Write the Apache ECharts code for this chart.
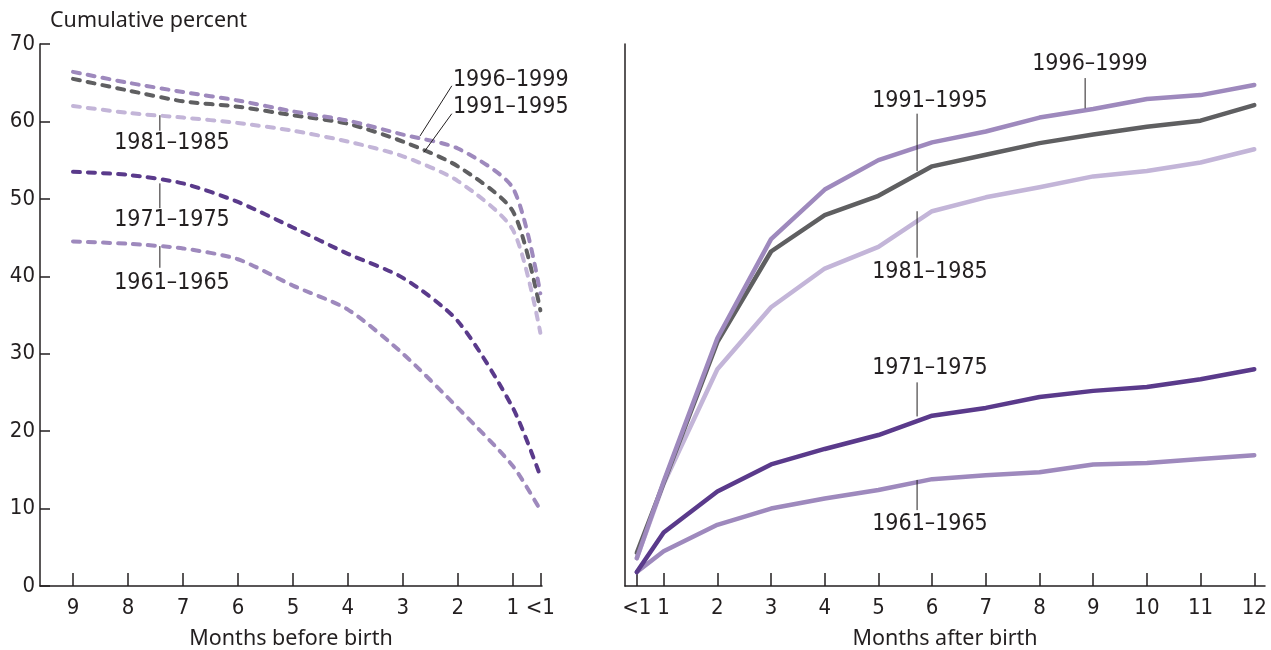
<!DOCTYPE html>
<html>
<head>
<meta charset="utf-8">
<script src="https://cdn.jsdelivr.net/npm/echarts@6/dist/echarts.min.js"></script>
<style>
html,body{margin:0;padding:0;background:#fff;}
#c{width:1271px;height:650px;}
</style>
</head>
<body>
<div id="c"></div>
<script>
// ---- data ----
var beforeMonths = [9, 8, 7, 6, 5, 4, 3, 2, 1, 0.5];
var afterMonths = [0.5, 1, 2, 3, 4, 5, 6, 7, 8, 9, 10, 11, 12];
var beforeTickValues = [9, 8, 7, 6, 5, 4, 3, 2, 1, 0.5];
var afterTickValues = [0.5, 1, 2, 3, 4, 5, 6, 7, 8, 9, 10, 11, 12];
var yTickLabels = [0, 10, 20, 30, 40, 50, 60, 70];

var cohorts = ['1961–1965', '1971–1975', '1981–1985', '1991–1995', '1996–1999'];

var before1961 = [44.5, 44.2, 43.6, 42.2, 38.8, 35.7, 30.0, 23.0, 15.5, 9.8];
var before1971 = [53.5, 53.1, 52.0, 49.6, 46.3, 42.9, 39.8, 34.2, 23.0, 14.2];
var before1981 = [62.0, 61.1, 60.5, 59.8, 58.8, 57.4, 55.5, 52.3, 46.0, 32.7];
var before1991 = [65.5, 64.0, 62.6, 61.9, 60.8, 59.7, 57.4, 54.2, 48.4, 35.6];
var before1996 = [66.4, 65.0, 63.8, 62.7, 61.3, 60.1, 58.3, 56.5, 51.4, 37.8];

var after1961 = [1.8, 4.5, 7.9, 10.0, 11.3, 12.4, 13.8, 14.3, 14.7, 15.7, 15.9, 16.4, 16.9];
var after1971 = [1.8, 6.9, 12.2, 15.7, 17.7, 19.5, 22.0, 23.0, 24.4, 25.2, 25.7, 26.7, 28.0];
var after1981 = [3.6, 13.2, 28.0, 36.0, 41.0, 43.8, 48.4, 50.2, 51.5, 52.9, 53.6, 54.7, 56.4];
var after1991 = [4.3, 13.3, 31.5, 43.2, 47.9, 50.4, 54.2, 55.7, 57.2, 58.3, 59.3, 60.1, 62.1];
var after1996 = [3.6, 13.5, 32.0, 44.8, 51.2, 55.0, 57.3, 58.7, 60.5, 61.6, 62.9, 63.4, 64.7];

var colors = {
  '1961–1965': '#9e89bd',
  '1971–1975': '#5a3a8b',
  '1981–1985': '#c3b5d8',
  '1991–1995': '#5f5f61',
  '1996–1999': '#9e89bd'
};

// annotation positions in data units: [grid, label, textX, textY, align, lineX1, lineY1, lineX2, lineY2]
var annotations = [
  [0, '1981–1985', 7.2, 57.2, 'center', 7.42, 60.8, 7.42, 58.8],
  [0, '1971–1975', 7.2, 47.3, 'center', 7.42, 52.0, 7.42, 48.8],
  [0, '1961–1965', 7.2, 39.1, 'center', 7.42, 43.9, 7.42, 41.1],
  [0, '1996–1999', 2.09, 65.3, 'left', 2.11, 64.6, 2.69, 58.1],
  [0, '1991–1995', 2.09, 61.8, 'left', 2.11, 61.0, 2.62, 56.0],
  [1, '1996–1999', 8.94, 67.4, 'center', 8.85, 65.6, 8.85, 61.7],
  [1, '1991–1995', 5.96, 62.6, 'center', 5.72, 61.0, 5.72, 53.6],
  [1, '1981–1985', 5.96, 40.6, 'center', 5.72, 48.4, 5.72, 42.4],
  [1, '1971–1975', 5.96, 28.2, 'center', 5.72, 26.3, 5.72, 21.9],
  [1, '1961–1965', 5.96, 8.0, 'center', 5.72, 13.7, 5.72, 9.8]
];

var FONT = '"DejaVu Sans Condensed", "DejaVu Sans", sans-serif';
var TFONT = '"Noto Sans", "DejaVu Sans", sans-serif';
var TXT = '#231f20';

function pairs(xs, ys) { return xs.map(function (x, i) { return [x, ys[i]]; }); }
function monthFmt(v) { return v < 1 ? '<1' : String(v); }

var beforeSets = [before1961, before1971, before1981, before1991, before1996];
var afterSets = [after1961, after1971, after1981, after1991, after1996];

var series = [];
cohorts.forEach(function (c, i) {
  series.push({
    name: c + ' before', type: 'line', xAxisIndex: 0, yAxisIndex: 0,
    data: pairs(beforeMonths, beforeSets[i]), showSymbol: false, smooth: 0.25,
    lineStyle: { color: colors[c], width: 4, type: [7, 8], cap: 'round', join: 'round' },
    silent: true, animation: false
  });
});
cohorts.forEach(function (c, i) {
  series.push({
    name: c + ' after', type: 'line', xAxisIndex: 1, yAxisIndex: 1,
    data: pairs(afterMonths, afterSets[i]), showSymbol: false,
    lineStyle: { color: colors[c], width: 4.5, cap: 'round', join: 'round' },
    silent: true, animation: false
  });
});

var axisLineStyle = { color: '#231f20', width: 1.5 };

var option = {
  animation: false,
  backgroundColor: '#fff',
  grid: [
    { left: 40, width: 502, top: 44, bottom: 64, outerBoundsMode: 'none', containLabel: false },
    { left: 625, width: 640, top: 44, bottom: 64, outerBoundsMode: 'none', containLabel: false }
  ],
  xAxis: [
    {
      gridIndex: 0, type: 'value', min: 0.47, max: 9.6, inverse: true,
      name: 'Months before birth', nameLocation: 'middle', nameGap: 42,
      nameTextStyle: { fontFamily: TFONT, fontSize: 21.5, color: TXT },
      axisLine: { show: true, lineStyle: axisLineStyle },
      axisTick: { show: true, inside: true, length: 13, customValues: beforeTickValues, lineStyle: axisLineStyle },
      axisLabel: { customValues: beforeTickValues, formatter: monthFmt, fontFamily: FONT, fontSize: 22, color: TXT, margin: 11 },
      splitLine: { show: false }
    },
    {
      gridIndex: 1, type: 'value', min: 0.28, max: 12.2,
      name: 'Months after birth', nameLocation: 'middle', nameGap: 42,
      nameTextStyle: { fontFamily: TFONT, fontSize: 21.5, color: TXT },
      axisLine: { show: true, lineStyle: axisLineStyle },
      axisTick: { show: true, inside: true, length: 13, customValues: afterTickValues, lineStyle: axisLineStyle },
      axisLabel: { customValues: afterTickValues, formatter: monthFmt, fontFamily: FONT, fontSize: 22, color: TXT, margin: 11 },
      splitLine: { show: false }
    }
  ],
  yAxis: [
    {
      gridIndex: 0, type: 'value', min: 0, max: 70, interval: 10,
      name: 'Cumulative percent', nameLocation: 'end', nameGap: 12,
      nameTextStyle: { fontFamily: TFONT, fontSize: 21.5, color: TXT, align: 'left', padding: [0, 0, 0, 10] },
      axisLine: { show: true, lineStyle: axisLineStyle },
      axisTick: { show: true, inside: true, length: 10, lineStyle: axisLineStyle },
      axisLabel: { customValues: yTickLabels, fontFamily: FONT, fontSize: 22, color: TXT, margin: 5 },
      splitLine: { show: false }
    },
    {
      gridIndex: 1, type: 'value', min: 0, max: 70, interval: 10,
      axisLine: { show: true, lineStyle: axisLineStyle },
      axisTick: { show: false },
      axisLabel: { show: false },
      splitLine: { show: false }
    }
  ],
  series: series
};

var chart = echarts.init(document.getElementById('c'), null, { renderer: 'canvas' });
chart.setOption(option);

var graphics = [];
annotations.forEach(function (a) {
  var g = { gridIndex: a[0] };
  var t = chart.convertToPixel(g, [a[2], a[3]]);
  var p1 = chart.convertToPixel(g, [a[5], a[6]]);
  var p2 = chart.convertToPixel(g, [a[7], a[8]]);
  graphics.push({
    type: 'line', silent: true, z: 10,
    shape: { x1: p1[0], y1: p1[1], x2: p2[0], y2: p2[1] },
    style: { stroke: '#231f20', lineWidth: 1 }
  });
  graphics.push({
    type: 'text', silent: true, z: 10, x: t[0], y: t[1],
    style: { text: a[1], fill: TXT, font: '23px ' + FONT, align: a[4], verticalAlign: 'middle' }
  });
});
chart.setOption({ graphic: graphics });
</script>
</body>
</html>
